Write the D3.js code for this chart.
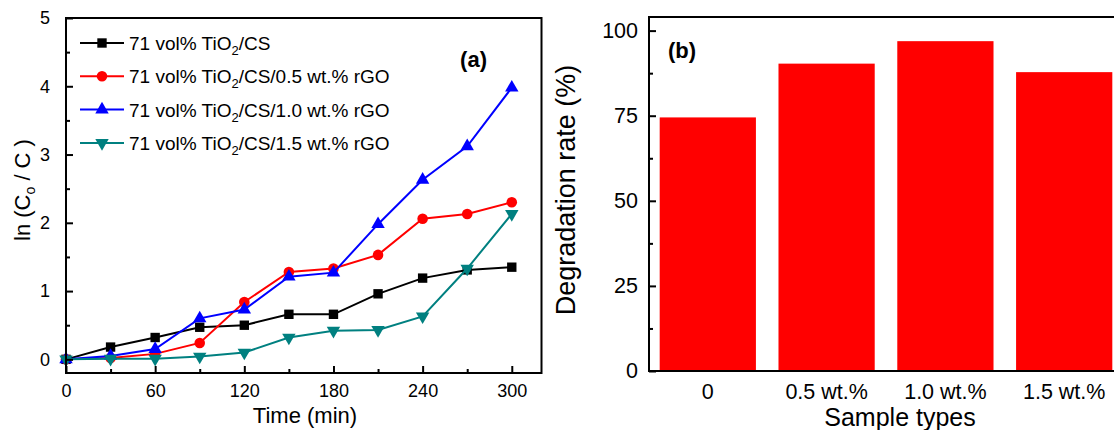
<!DOCTYPE html>
<html>
<head>
<meta charset="utf-8">
<script src="https://cdn.jsdelivr.net/npm/d3@7"></script>
<style>
  body { margin: 0; background: #fff; }
  svg { display: block; font-family: "Liberation Sans", Arial, sans-serif; }
</style>
</head>
<body>
<svg id="chart" width="1114" height="430"></svg>
<script>
// panel (a) data: ln(C0/C) vs time
var times = [0, 30, 60, 90, 120, 150, 180, 210, 240, 270, 300]
var tio2cs      = [0, 0.18, 0.32, 0.47, 0.50, 0.66, 0.66, 0.96, 1.19, 1.31, 1.35]
var rgo05       = [0, 0.02, 0.08, 0.24, 0.84, 1.28, 1.33, 1.53, 2.06, 2.13, 2.30]
var rgo10       = [0, 0.05, 0.15, 0.60, 0.73, 1.21, 1.27, 1.98, 2.63, 3.12, 3.98]
var rgo15       = [0, 0.01, 0.01, 0.04, 0.10, 0.32, 0.42, 0.43, 0.63, 1.33, 2.13]
var seriesSuffix = ['/CS', '/CS/0.5 wt.% rGO', '/CS/1.0 wt.% rGO', '/CS/1.5 wt.% rGO']
var seriesColors = ['#000000', '#ff0000', '#0000ff', '#008080']
var seriesMarks = ['square', 'circle', 'up', 'down']
var xTicksA = [0, 60, 120, 180, 240, 300]
var yTicksA = [0, 1, 2, 3, 4, 5]

// panel (b) data: degradation rate
var sampleTypes = ['0', '0.5 wt.%', '1.0 wt.%', '1.5 wt.%']
var degradationRate = [74.5, 90.3, 96.9, 87.8]
var yTicksB = [0, 25, 50, 75, 100]

var svg = d3.select('#chart')

function marker(type) {
	if (type == 'square') return d3.symbol().type(d3.symbolSquare).size(88)()
	if (type == 'circle') return d3.symbol().type(d3.symbolCircle).size(88)()
	return d3.symbol().type(d3.symbolTriangle).size(78)()
}
function markerTransform(type, x, y) {
	var t = 'translate(' + x + ',' + y + ')'
	if (type == 'down') t += ' rotate(180)'
	return t
}

// ---------- panel (a) ----------
var xA = d3.scaleLinear().domain([0, 320]).range([66, 541.5])
var yA = d3.scaleLinear().domain([-0.2, 5]).range([373, 18])

var gA = svg.append('g')

var series = [tio2cs, rgo05, rgo10, rgo15]
var line = d3.line()
	.x(function(d, i) { return xA(times[i]) })
	.y(function(d) { return yA(d) })

series.forEach(function(vals, k) {
	gA.append('path')
		.datum(vals)
		.attr('d', line)
		.attr('fill', 'none')
		.attr('stroke', seriesColors[k])
		.attr('stroke-width', 2)
	gA.selectAll('.m' + k)
		.data(vals)
		.enter().append('path')
		.attr('class', 'm' + k)
		.attr('d', marker(seriesMarks[k]))
		.attr('transform', function(d, i) { return markerTransform(seriesMarks[k], xA(times[i]), yA(d)) })
		.attr('fill', seriesColors[k])
})

// axes
gA.append('g').attr('transform', 'translate(0,373)')
	.call(d3.axisBottom(xA).tickValues(xTicksA).tickSizeInner(-7).tickSizeOuter(0).tickPadding(11))
gA.append('g').attr('transform', 'translate(0,373)')
	.call(d3.axisBottom(xA).tickValues([30, 90, 150, 210, 270]).tickSizeInner(-4).tickSizeOuter(0).tickFormat(''))
gA.append('g').attr('transform', 'translate(66,0)')
	.call(d3.axisLeft(yA).tickValues(yTicksA).tickFormat(d3.format('d')).tickSizeInner(-7).tickSizeOuter(0).tickPadding(16))
gA.append('g').attr('transform', 'translate(66,0)')
	.call(d3.axisLeft(yA).tickValues([0.5, 1.5, 2.5, 3.5, 4.5]).tickSizeInner(-4).tickSizeOuter(0).tickFormat(''))

gA.selectAll('.domain').remove()
gA.selectAll('g').attr('font-family', null).attr('font-size', null)
gA.selectAll('.tick line').attr('stroke', '#000').attr('stroke-width', 2)
gA.selectAll('.tick text').attr('font-size', 18).attr('fill', '#000')

gA.append('rect')
	.attr('x', xA(0)).attr('y', yA(5))
	.attr('width', xA(320) - xA(0)).attr('height', yA(-0.2) - yA(5))
	.attr('fill', 'none').attr('stroke', '#000').attr('stroke-width', 2)

// legend
var legend = gA.append('g')
seriesSuffix.forEach(function(s, k) {
	var y = 43 + k * 33.3
	legend.append('line')
		.attr('x1', 80).attr('x2', 124).attr('y1', y).attr('y2', y)
		.attr('stroke', seriesColors[k]).attr('stroke-width', 2)
	legend.append('path')
		.attr('d', marker(seriesMarks[k]))
		.attr('transform', markerTransform(seriesMarks[k], 102, y))
		.attr('fill', seriesColors[k])
	var t = legend.append('text')
		.attr('x', 129).attr('y', y + 7)
		.attr('font-size', 19)
	t.append('tspan').text('71 vol% TiO')
	t.append('tspan').attr('font-size', 13).attr('dy', 5).text('2')
	t.append('tspan').attr('dy', -5).text(s)
})

gA.append('text')
	.attr('x', 487).attr('y', 67)
	.attr('text-anchor', 'end')
	.attr('font-size', 22).attr('font-weight', 'bold')
	.text('(a)')

gA.append('text')
	.attr('x', 305).attr('y', 423)
	.attr('text-anchor', 'middle')
	.attr('font-size', 22)
	.text('Time (min)')

var yTitleA = gA.append('text')
	.attr('transform', 'translate(30,190) rotate(-90)')
	.attr('text-anchor', 'middle')
	.attr('font-size', 22)
yTitleA.append('tspan').text('ln (C')
yTitleA.append('tspan').attr('font-size', 14).attr('dy', 5).text('o')
yTitleA.append('tspan').attr('dy', -5).text(' / C )')

// ---------- panel (b) ----------
var xB = d3.scaleBand().domain(sampleTypes).range([649, 1123]).paddingInner(0.19).paddingOuter(0.09)
var yB = d3.scaleLinear().domain([0, 104]).range([371, 17])

var gB = svg.append('g')

gB.selectAll('.bar')
	.data(degradationRate)
	.enter().append('rect')
	.attr('class', 'bar')
	.attr('x', function(d, i) { return xB(sampleTypes[i]) })
	.attr('width', xB.bandwidth())
	.attr('y', function(d) { return yB(d) })
	.attr('height', function(d) { return yB(0) - yB(d) })
	.attr('fill', '#ff0000')

gB.append('g').attr('transform', 'translate(0,371)')
	.call(d3.axisBottom(xB).tickSize(0).tickPadding(13))
gB.append('g').attr('transform', 'translate(649,0)')
	.call(d3.axisLeft(yB).tickValues(yTicksB).tickSizeInner(-7).tickSizeOuter(0).tickPadding(11))
gB.append('g').attr('transform', 'translate(649,0)')
	.call(d3.axisLeft(yB).tickValues([12.5, 37.5, 62.5, 87.5]).tickSizeInner(-4).tickSizeOuter(0).tickFormat(''))

gB.selectAll('.domain').remove()
gB.selectAll('g').attr('font-family', null).attr('font-size', null)
gB.selectAll('.tick line').attr('stroke', '#000').attr('stroke-width', 2)
gB.selectAll('.tick text').attr('font-size', 21.5).attr('fill', '#000')

gB.append('rect')
	.attr('x', 649).attr('y', yB(104))
	.attr('width', 1123 - 649).attr('height', yB(0) - yB(104))
	.attr('fill', 'none').attr('stroke', '#000').attr('stroke-width', 2)

gB.append('text')
	.attr('x', 668).attr('y', 58)
	.attr('font-size', 22).attr('font-weight', 'bold')
	.text('(b)')

gB.append('text')
	.attr('x', 900).attr('y', 426)
	.attr('text-anchor', 'middle')
	.attr('font-size', 25)
	.text('Sample types')

gB.append('text')
	.attr('transform', 'translate(575,190) rotate(-90)')
	.attr('text-anchor', 'middle')
	.attr('font-size', 27)
	.text('Degradation rate (%)')
</script>
</body>
</html>
